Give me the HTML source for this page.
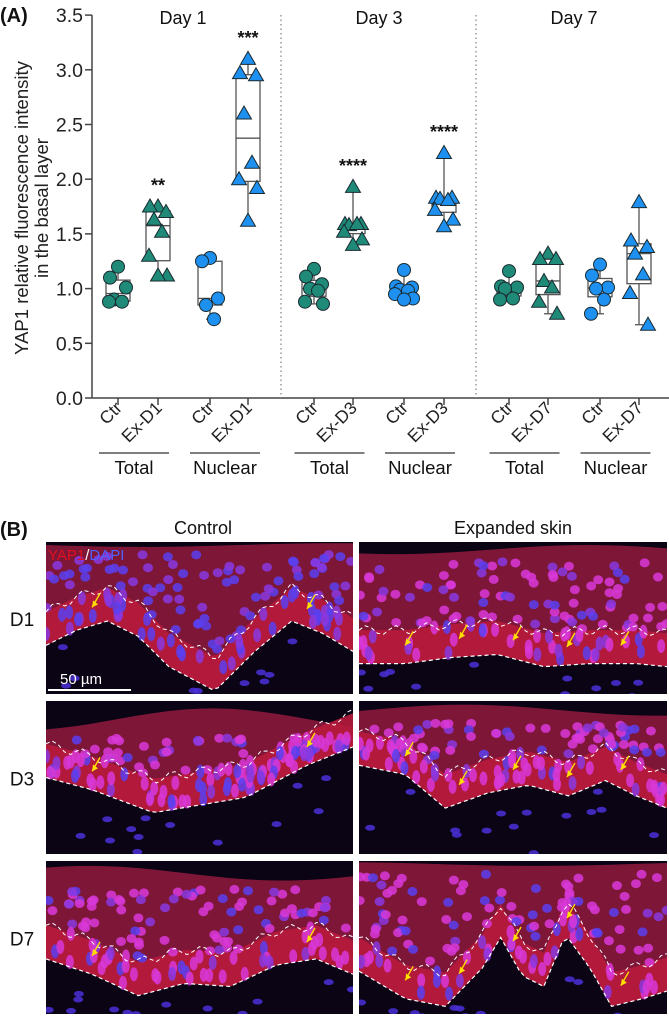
<!DOCTYPE html>
<html><head><meta charset="utf-8"><style>
html,body{margin:0;padding:0;background:#fff;}
svg{display:block;font-family:"Liberation Sans",Arial,sans-serif;}
</style></head><body>
<svg id="fig" width="669" height="1016" viewBox="0 0 669 1016">
<g id="chart"></g>
<g id="panelB"></g>
</svg>
<script>
// ---- chart data ----
const groups = ["Ctr","Ex-D1","Ctr","Ex-D1","Ctr","Ex-D3","Ctr","Ex-D3","Ctr","Ex-D7","Ctr","Ex-D7"];
const groupX = [118,158,210,248,314,353,404,444,509,548,600,639];
const shapes = ["c","t","c","t","c","t","c","t","c","t","c","t"];
const colors = ["#1f8a78","#1f8a78","#1e90f0","#1e90f0","#1f8a78","#1f8a78","#1e90f0","#1e90f0","#1f8a78","#1f8a78","#1e90f0","#1e90f0"];
const d1TotalCtr = [1.20,1.10,1.01,0.90,0.88,0.88];
const d1TotalEx = [1.75,1.75,1.70,1.63,1.52,1.30,1.12,1.12];
const d1NucCtr = [1.28,1.25,0.91,0.85,0.72];
const d1NucEx = [3.10,2.97,2.95,2.60,2.15,2.00,1.92,1.62];
const d3TotalCtr = [1.18,1.11,1.04,1.00,0.98,0.88,0.86];
const d3TotalEx = [1.93,1.59,1.59,1.58,1.59,1.52,1.45,1.40];
const d3NucCtr = [1.17,1.02,1.01,0.99,0.98,0.95,0.91,0.90];
const d3NucEx = [2.24,1.83,1.83,1.82,1.81,1.72,1.63,1.57];
const d7TotalCtr = [1.16,1.02,1.01,1.00,0.91,0.90];
const d7TotalEx = [1.32,1.27,1.27,1.07,1.01,0.88,0.77];
const d7NucCtr = [1.22,1.12,1.01,1.00,0.90,0.77];
const d7NucEx = [1.79,1.44,1.38,1.32,1.13,0.96,0.67];
const series = [d1TotalCtr,d1TotalEx,d1NucCtr,d1NucEx,d3TotalCtr,d3TotalEx,d3NucCtr,d3NucEx,d7TotalCtr,d7TotalEx,d7NucCtr,d7NucEx];
const yTicks = [0,0.5,1.0,1.5,2.0,2.5,3.0,3.5];
const stars = ["","**","","***","","****","","****","","","",""];
const dayTitles = ["Day 1","Day 3","Day 7"];
const pairLabels = ["Total","Nuclear","Total","Nuclear","Total","Nuclear"];

const NS="http://www.w3.org/2000/svg";
function mk(tag,attrs,parent,text){const e=document.createElementNS(NS,tag);for(const k in attrs)e.setAttribute(k,attrs[k]);if(text!==undefined)e.textContent=text;parent.appendChild(e);return e;}
const Y0=398, PXU=109.4;
const yS=v=>Y0-v*PXU;
const C=document.getElementById('chart');

let ax=mk('line',{x1:92,y1:15,x2:92,y2:Y0,stroke:'#444','stroke-width':1.5},C);


let xa=mk('line',{x1:92,y1:Y0,x2:669,y2:Y0,stroke:'#444','stroke-width':1.5},C);


yTicks.forEach(t=>{
  let tl=mk('line',{x1:85,y1:yS(t),x2:92,y2:yS(t),stroke:'#444','stroke-width':1.5},C);
  
  
  let tx=mk('text',{x:83,y:yS(t)+7,'text-anchor':'end','font-size':19.5,fill:'#222'},C,t.toFixed(1));
  
  
});
let yt=mk('text',{transform:'translate(28,208) rotate(-90)','text-anchor':'middle','font-size':18.5,fill:'#222'},C);


mk('tspan',{x:0,y:0},yt,'YAP1 relative fluorescence intensity');
mk('tspan',{x:0,y:20},yt,'in the basal layer');
let la=mk('text',{x:0,y:22,'font-size':20,'font-weight':'bold',fill:'#111'},C,'(A)');


[281,476].forEach(x=>{
  let d=mk('line',{x1:x,y1:15,x2:x,y2:Y0,stroke:'#666','stroke-width':1,'stroke-dasharray':'1.5,3'},C);
  
  
});
dayTitles.forEach((t,i)=>{
  const cx=(groupX[i*4]+groupX[i*4+3])/2;
  let e=mk('text',{x:cx,y:24,'text-anchor':'middle','font-size':18,fill:'#111'},C,t);
  
  
});
function q(arr,p){const s=[...arr].sort((a,b)=>a-b);const i=(s.length-1)*p;const lo=Math.floor(i),hi=Math.ceil(i);return s[lo]+(s[hi]-s[lo])*(i-lo);}
const jit=[0,-8,8,-4,4,-9,9,0];
series.forEach((vals,gi)=>{
  const x=groupX[gi];
  const g=mk('g',{},C);
  
  
  const mn=Math.min(...vals),mx=Math.max(...vals),q1=q(vals,0.25),q3=q(vals,0.75),md=q(vals,0.5);
  mk('line',{x1:x,y1:yS(mx),x2:x,y2:yS(mn),stroke:'#555','stroke-width':1.3},g);
  mk('line',{x1:x-4,y1:yS(mx),x2:x+4,y2:yS(mx),stroke:'#555','stroke-width':1.3},g);
  mk('line',{x1:x-4,y1:yS(mn),x2:x+4,y2:yS(mn),stroke:'#555','stroke-width':1.3},g);
  let b=mk('rect',{x:x-12,y:yS(q3),width:24,height:yS(q1)-yS(q3),fill:'#fff',stroke:'#555','stroke-width':1.3},g);
  
  
  mk('line',{x1:x-12,y1:yS(md),x2:x+12,y2:yS(md),stroke:'#555','stroke-width':1.3},g);
  vals.forEach((v,i)=>{
    const px=x+jit[i%jit.length], py=yS(v);
    let p;
    if(shapes[gi]==='c') p=mk('circle',{cx:px,cy:py,r:6.5,fill:colors[gi],stroke:'#1a2a30','stroke-width':1},g);
    else p=mk('polygon',{points:`${px},${py-7.5} ${px-7.5},${py+5.5} ${px+7.5},${py+5.5}`,fill:colors[gi],stroke:'#1a2a30','stroke-width':1},g);
    
    
  });
  if(stars[gi]){
    let s=mk('text',{x:x,y:yS(mx)-15,'text-anchor':'middle','font-size':18,'font-weight':'bold',fill:'#111'},g,stars[gi]);
    
    
  }
  let tk=mk('line',{x1:x,y1:Y0,x2:x,y2:Y0+7,stroke:'#444','stroke-width':1.5},C);
  
  
  let tl=mk('text',{transform:`translate(${x+5},${Y0+11}) rotate(-45)`,'text-anchor':'end','font-size':17.5,fill:'#222'},C,groups[gi]);
  
  
});
pairLabels.forEach((t,i)=>{
  const cx=(groupX[i*2]+groupX[i*2+1])/2-4;
  let l=mk('line',{x1:cx-35,y1:453,x2:cx+35,y2:453,stroke:'#333','stroke-width':1.2},C);
  
  
  let e=mk('text',{x:cx,y:474,'text-anchor':'middle','font-size':18.5,fill:'#111'},C,t);
  
  
});

// ---- panel B (decorative micrographs) ----
const B=document.getElementById('panelB');
let lb=mk('text',{x:0,y:536,'font-size':20,'font-weight':'bold',fill:'#111'},B,'(B)');


let tc=mk('text',{x:203,y:534,'text-anchor':'middle','font-size':18,fill:'#111'},B,'Control');


let te=mk('text',{x:513,y:534,'text-anchor':'middle','font-size':18,fill:'#111'},B,'Expanded skin');


const rowsY=[[542,694],[701,854],[861,1014]];
const rowNames=["D1","D3","D7"];
const colsX=[[46,353],[359,667]];
const curves=[
 [[0,.68],[.1,.58],[.2,.52],[.3,.62],[.4,.82],[.55,.98],[.68,.72],[.8,.52],[.9,.6],[1,.72]],
 [[0,.8],[.15,.8],[.3,.76],[.45,.74],[.6,.82],[.75,.8],[.9,.8],[1,.82]],
 [[0,.5],[.15,.58],[.35,.73],[.5,.68],[.65,.63],[.85,.42],[1,.3]],
 [[0,.42],[.15,.48],[.28,.7],[.42,.6],[.55,.55],[.68,.62],[.8,.52],[.9,.62],[1,.7]],
 [[0,.64],[.15,.74],[.3,.88],[.45,.8],[.6,.82],[.75,.68],[.88,.64],[1,.74]],
 [[0,.72],[.15,.9],[.28,.95],[.4,.7],[.46,.5],[.53,.75],[.6,.82],[.67,.48],[.75,.7],[.82,.95],[.92,.9],[1,.85]]
];
const topDark=[.02,.05,.12,.06,.08,.02];
let seed=7;function rnd(){seed=(seed*16807)%2147483647;return seed/2147483647;}
function interp(c,f){for(let i=1;i<c.length;i++){if(f<=c[i][0]){const a=c[i-1],b=c[i];return a[1]+(b[1]-a[1])*(f-a[0])/(b[0]-a[0]);}}return c[c.length-1][1];}
const defs=mk('defs',{},B);
rowsY.forEach((ry,r)=>{
  colsX.forEach((cxr,c)=>{
    const idx=r*2+c;const x0=cxr[0],x1=cxr[1],y0=ry[0],y1=ry[1],W=x1-x0,H=y1-y0;
    const g=mk('g',{},B);
    
    
    const cp=mk('clipPath',{id:'cp'+idx},defs);mk('rect',{x:x0,y:y0,width:W,height:H},cp);
    const gg=mk('g',{'clip-path':'url(#cp'+idx+')'},g);
    mk('rect',{x:x0,y:y0,width:W,height:H,fill:'#0a0414'},gg);
    const cv=curves[idx];
    let top='M'+x0+','+y0;
    for(let f=0;f<=1.001;f+=0.05){top+=' L'+(x0+f*W)+','+(y0+topDark[idx]*H*(1+0.6*Math.sin(f*5+idx)));}
    let pts=[];for(let f=0;f<=1.001;f+=0.02)pts.push([x0+f*W,y0+interp(cv,f)*H]);
    let path=top+' L'+x1+','+pts[pts.length-1][1];
    for(let i=pts.length-1;i>=0;i--)path+=' L'+pts[i][0]+','+pts[i][1];
    path+=' Z';
    mk('path',{d:path,fill:'#7e1638'},gg);
    let band='M'+pts[0][0]+','+(pts[0][1]-H*0.22);
    pts.forEach(p=>band+=' L'+p[0]+','+(p[1]-H*0.22));
    for(let i=pts.length-1;i>=0;i--)band+=' L'+pts[i][0]+','+pts[i][1];
    mk('path',{d:band+' Z',fill:'#b81a3c',opacity:.9},gg);
    for(let n=0;n<130;n++){
      const f=rnd(),bd=interp(cv,f),td=topDark[idx]*1.6+0.05;
      const yy=td+(bd-td-0.03)*rnd();
      const basal=yy>bd-0.22;
      const col=(c===1||r>0)&&rnd()>0.4?'#d838d8':(rnd()>0.5?'#5a40f0':'#8a38e0');
      mk('ellipse',{cx:x0+f*W,cy:y0+yy*H,rx:basal?4:5,ry:basal?7:4.5,fill:col,opacity:.85},gg);
    }
    for(let n=0;n<14;n++){
      const f=rnd(),bd=interp(cv,f);const yy=bd+0.05+(1-bd)*rnd();
      mk('ellipse',{cx:x0+f*W,cy:y0+yy*H,rx:5,ry:3,fill:'#4a30d8',opacity:.85},gg);
    }
    let dl='M'+pts.map(p=>p[0]+','+p[1]).join(' L');
    mk('path',{d:dl,fill:'none',stroke:'#fff','stroke-width':1.2,'stroke-dasharray':'4,3'},gg);
    let dl2='M'+pts.map((p,i)=>p[0]+','+(p[1]-H*(0.22+0.03*Math.sin(i*1.3)))).join(' L');
    mk('path',{d:dl2,fill:'none',stroke:'#fff','stroke-width':1,'stroke-dasharray':'4,3'},gg);
    for(let a=0;a<(c?5:2);a++){
      const f=0.15+a*(0.7/(c?4:1));const ay=y0+(interp(cv,f)-0.12)*H,axp=x0+f*W;
      mk('line',{x1:axp+8,y1:ay-14,x2:axp,y2:ay,stroke:'#ffe000','stroke-width':1.4},gg);
      mk('polygon',{points:`${axp},${ay} ${axp+1},${ay-7} ${axp+6},${ay-3}`,fill:'#ffe000'},gg);
    }
  });
  let rl=mk('text',{x:22,y:(ry[0]+ry[1])/2+8,'text-anchor':'middle','font-size':19,fill:'#111'},B,rowNames[r]);
  
  
});
let st=mk('text',{x:48,y:560,'font-size':15,fill:'#e01020'},B);


mk('tspan',{},st,'YAP1');mk('tspan',{fill:'#fff'},st,'/');mk('tspan',{fill:'#5060ff'},st,'DAPI');
let sb=mk('line',{x1:48,y1:690,x2:131,y2:690,stroke:'#fff','stroke-width':2},B);


let sbt=mk('text',{x:60,y:684,'font-size':15,fill:'#fff'},B,'50 µm');


</script>
</body></html>
